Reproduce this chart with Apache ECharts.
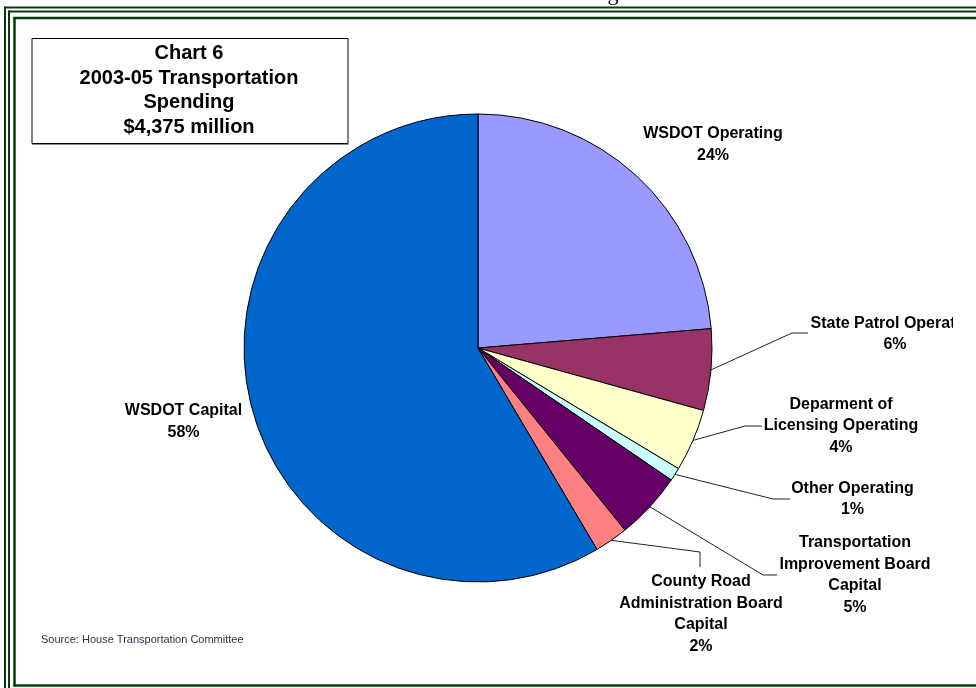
<!DOCTYPE html>
<html>
<head>
<meta charset="utf-8">
<script src="https://cdn.jsdelivr.net/npm/echarts@6/dist/echarts.min.js"></script>
<style>
html,body{margin:0;padding:0;background:#fff;}
#c{width:976px;height:688px;}
</style>
</head>
<body>
<div id="c"></div>
<script>
// Data ($ millions; total $4,375 million)
var categories = [
  'WSDOT Operating',
  'State Patrol Operating',
  'Deparment of\nLicensing Operating',
  'Other Operating',
  'Transportation\nImprovement Board\nCapital',
  'County Road\nAdministration Board\nCapital',
  'WSDOT Capital'
];
var values = [1036, 246, 189, 40, 204, 101, 2559];
var colors = ['#9999FF', '#993366', '#FFFFCC', '#CCFFFF', '#660066', '#FF8080', '#0066CC'];
var titleLines = ['Chart 6', '2003-05 Transportation', 'Spending', '$4,375 million'];
var sourceText = 'Source: House Transportation Committee';

// label placement (style/layout only)
var labelPlace = [
  {x: 713, y: 144.5, line: null},
  {x: 895, y: 334, line: [[792, 333], [808, 333]]},
  {x: 841, y: 426, line: [[745, 426], [762, 426]]},
  {x: 852.5, y: 499, line: [[773, 499], [790, 499]]},
  {x: 855, y: 575, line: [[763, 575], [777, 575]]},
  {x: 701, y: 614, line: [[700, 552], [700, 567]]},
  {x: 183.5, y: 421.5, line: null}
];

var chart = echarts.init(document.getElementById('c'), null, {renderer: 'canvas'});

var pieData = categories.map(function (n, i) {
  return {
    name: n,
    value: values[i],
    itemStyle: {color: colors[i]},
    labelLine: {show: !!labelPlace[i].line}
  };
});

var CX = 478, CY = 348, R = 234;

var graphics = [];
// Frame (dark green page border)
var G = '#0b3a0b';
function vline(x, y1, y2, w) { graphics.push({type: 'line', silent: true, shape: {x1: x, y1: y1, x2: x, y2: y2}, style: {stroke: G, lineWidth: w}}); }
function hline(y, x1, x2, w) { graphics.push({type: 'line', silent: true, shape: {x1: x1, y1: y, x2: x2, y2: y}, style: {stroke: G, lineWidth: w}}); }
hline(7.5, 4, 976, 2);
hline(11.5, 8, 976, 2);
vline(5, 6.5, 688, 2);
vline(9, 10.5, 688, 2);
hline(18, 13.5, 976, 2.5);
vline(14.5, 17, 686.5, 2.5);
hline(685.5, 13.5, 976, 2.5);

// cut-off heading descender at top
graphics.push({type: 'text', silent: true, style: {text: 'g', x: 613, y: 5, fill: '#000', font: '22px "Liberation Serif", serif', textAlign: 'center', textVerticalAlign: 'bottom'}});

// Title box
graphics.push({type: 'rect', silent: true, shape: {x: 32, y: 38.5, width: 316, height: 105}, style: {fill: '#fff', stroke: '#000', lineWidth: 1}, z: 10});
graphics.push({type: 'line', silent: true, shape: {x1: 32, y1: 144.5, x2: 348.5, y2: 144.5}, style: {stroke: '#888', lineWidth: 1}, z: 10});
titleLines.forEach(function (t, i) {
  graphics.push({type: 'text', silent: true, z: 11, style: {text: t, x: 189, y: 53.5 + i * 24.5, fill: '#000', font: 'bold 20px "Liberation Sans", Arial, sans-serif', textAlign: 'center', textVerticalAlign: 'middle'}});
});

// Source
graphics.push({type: 'text', silent: true, style: {text: sourceText, x: 41, y: 640, fill: '#333344', font: '11px "Liberation Sans", Arial, sans-serif', textAlign: 'left', textVerticalAlign: 'middle'}});

// clip region at right of plot area
graphics.push({type: 'rect', silent: true, z: 100, shape: {x: 953, y: 300, width: 23, height: 60}, style: {fill: '#fff'}});

chart.setOption({
  backgroundColor: '#fff',
  animation: false,
  graphic: graphics,
  series: [{
    type: 'pie',
    center: [CX, CY],
    radius: [0, R],
    startAngle: 90,
    clockwise: true,
    percentPrecision: 0,
    avoidLabelOverlap: false,
    data: pieData,
    itemStyle: {borderColor: '#000', borderWidth: 1},
    emphasis: {disabled: true},
    label: {
      show: true,
      position: 'outside',
      formatter: '{b}\n{d}%',
      color: '#000',
      fontFamily: '"Liberation Sans", Arial, sans-serif',
      fontWeight: 'bold',
      fontSize: 16,
      lineHeight: 21.5,
      align: 'center'
    },
    labelLine: {
      show: true,
      length: 20,
      length2: 15,
      lineStyle: {color: '#222', width: 1}
    },
    labelLayout: function (params) {
      var p = labelPlace[params.dataIndex];
      var res = {x: p.x, y: p.y, align: 'center', verticalAlign: 'middle'};
      if (p.line) {
        var start;
        if (params.labelLinePoints && params.labelLinePoints[0]) {
          start = params.labelLinePoints[0];
        } else {
          start = [CX, CY];
        }
        res.labelLinePoints = [[start[0], start[1]], p.line[0], p.line[1]];
      }
      return res;
    }
  }]
});
</script>
</body>
</html>
